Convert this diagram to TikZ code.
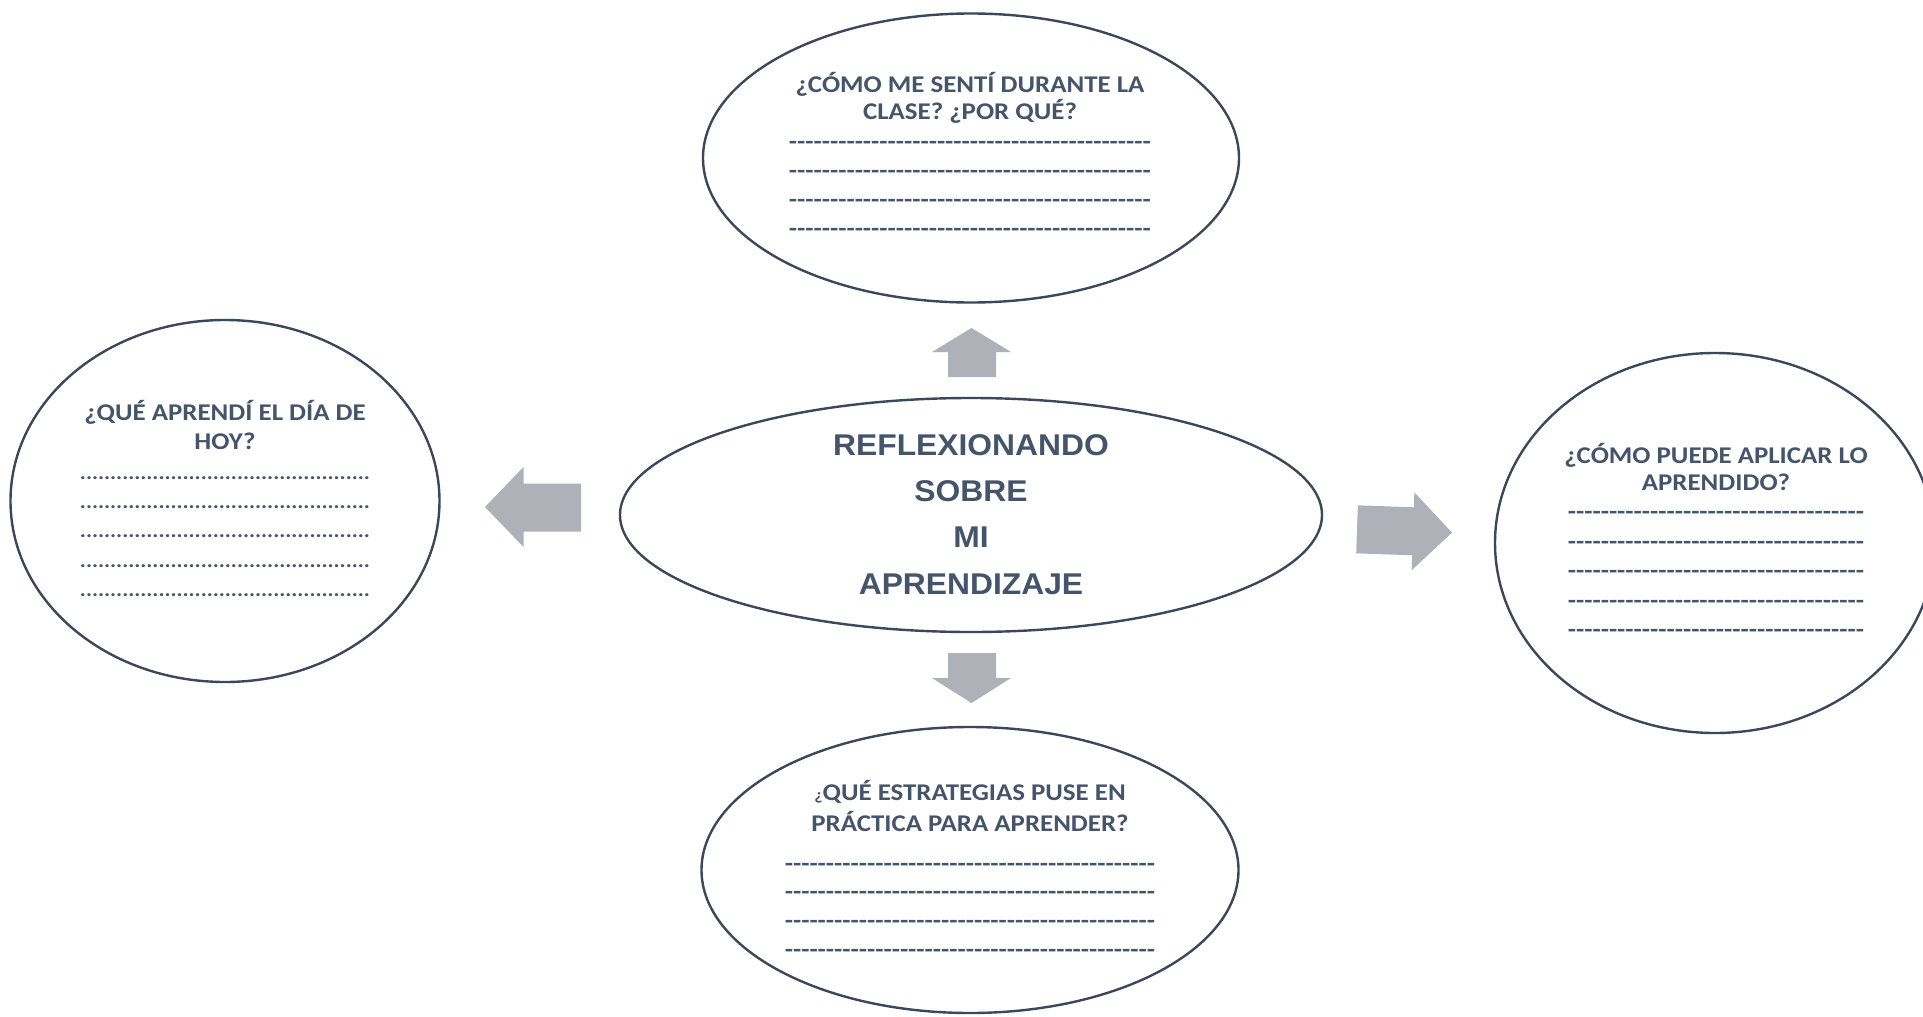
\documentclass[tikz,border=0pt]{standalone}
\usepackage{fontspec}
\newfontfamily\qfont{Carlito}
\newfontfamily\cfont{Liberation Sans}
\usetikzlibrary{shapes.geometric}
\definecolor{txt}{HTML}{44546A}
\definecolor{edge}{HTML}{3B475A}
\definecolor{arr}{HTML}{AEB1B8}
\newcommand\sx[2][1.12]{\scalebox{#1}[1]{#2}}
\newcommand\rep[2]{\foreach \k in {1,...,#1}{#2\kern0pt}}
\tikzset{
  bubble/.style={ellipse, draw=edge, line width=2.4pt, inner sep=0pt},
  qline/.style={anchor=base, text=txt, inner sep=0pt, font=\qfont\bfseries\fontsize{24}{28}\selectfont},
  dotline/.style={anchor=base, text=txt, inner sep=0pt, font=\qfont\bfseries\fontsize{20.2}{24}\selectfont},
  cline/.style={anchor=base, text=txt, inner sep=0pt, font=\cfont\bfseries\fontsize{30}{36}\selectfont},
  blockarrow/.style={fill=arr, draw=none},
}
\begin{document}
\begin{tikzpicture}[x=1pt, y=-1pt]
\useasboundingbox (0,0) rectangle (1923,1017);
\fill[white] (0,0) rectangle (1923,1017);
\begin{scope}
\clip (0,0) rectangle (1923,1017);
% ellipses
\node[bubble, minimum width=536pt, minimum height=289pt] (top) at (971,158) {};
\node[bubble, minimum width=429pt, minimum height=362pt] (left) at (225,501) {};
\node[bubble, minimum width=440pt, minimum height=380pt] (right) at (1715,543) {};
\node[bubble, minimum width=537pt, minimum height=286pt] (bottom) at (970,870) {};
\node[bubble, minimum width=702pt, minimum height=234pt] (center) at (971,515) {};
\end{scope}

% center text
\node[cline] (c1) at (971,455.5) {\sx[1.06]{REFLEXIONANDO}};
\node[cline] (c2) at (971,501.5) {\sx[1.06]{SOBRE}};
\node[cline] (c3) at (971,547.5) {\sx[1.06]{MI}};
\node[cline] (c4) at (971,594) {\sx[1.06]{APRENDIZAJE}};

% top
\node[qline] (tq1) at (970,92.5) {\sx{¿CÓMO ME SENTÍ DURANTE LA}};
\node[qline] (tq2) at (970,119.5) {\sx{CLASE? ¿POR QUÉ?}};
\foreach \y [count=\i] in {149.5,178,207,236}
  \node[qline] (td\i) at (970,\y) {\sx{\rep{44}{-}}};

% left
\node[qline] (lq1) at (225,420.7) {\sx{¿QUÉ APRENDÍ EL DÍA DE}};
\node[qline] (lq2) at (225,449.3) {\sx{HOY?}};
\foreach \y [count=\i] in {479,508,537.5,567,596.5}
  \node[dotline] (ld\i) at (225,\y) {\sx{\rep{48}{.}}};

% right
\node[qline] (rq1) at (1716,463) {\sx{¿CÓMO PUEDE APLICAR LO}};
\node[qline] (rq2) at (1716,490.7) {\sx{APRENDIDO?}};
\foreach \y [count=\i] in {519,549,578.7,608,637}
  \node[qline] (rd\i) at (1716,\y) {\sx{\rep{36}{-}}};

% bottom
\node[qline] (bq1) at (970,800) {\sx{{\fontsize{16}{18}\selectfont ¿}QUÉ ESTRATEGIAS PUSE EN}};
\node[qline] (bq2) at (970,831.7) {\sx{PRÁCTICA PARA APRENDER?}};
\foreach \y [count=\i] in {871.5,899,928,957.5}
  \node[qline] (bd\i) at (970,\y) {\sx{\rep{45}{-}}};

% block arrows
\fill[blockarrow] (932,352) -- (971.5,328) -- (1011,352) -- (996,352) -- (996,377) -- (948,377) -- (948,352) -- cycle;
\fill[blockarrow] (948,653) -- (996,653) -- (996,678) -- (1011,678) -- (971.5,703) -- (932,678) -- (948,678) -- cycle;
\fill[blockarrow] (581,483.5) -- (523.5,483.5) -- (523.5,467) -- (485,507) -- (523.5,547) -- (523.5,531.5) -- (581,531.5) -- cycle;
\fill[blockarrow, rotate around={-2:(1405,531)}] (1357,507) -- (1413,507) -- (1413,492) -- (1452,531) -- (1413,570) -- (1413,555) -- (1357,555) -- cycle;
\end{tikzpicture}
\end{document}
